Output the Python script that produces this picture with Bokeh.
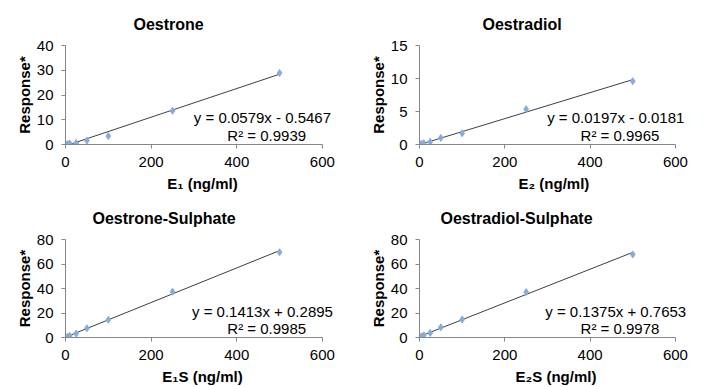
from bokeh.plotting import figure
from bokeh.layouts import column, row
from bokeh.models import Label, Range1d, FixedTicker
from bokeh.embed import file_html
from bokeh.resources import INLINE

# ---- data ----
conc = [1, 5, 10, 25, 50, 100, 250, 500]
oestrone = [0.0, 0.2, 0.4, 0.6, 1.6, 3.4, 13.6, 28.9]
oestradiol = [0.0, 0.1, 0.2, 0.4, 1.0, 1.7, 5.35, 9.6]
oestrone_sulphate = [0.1, 0.6, 1.3, 3.2, 7.5, 14.4, 37.4, 69.6]
oestradiol_sulphate = [0.2, 0.9, 1.8, 3.7, 8.3, 14.7, 37.1, 67.8]
series = [oestrone, oestradiol, oestrone_sulphate, oestradiol_sulphate]

titles = ["Oestrone", "Oestradiol", "Oestrone-Sulphate", "Oestradiol-Sulphate"]
xlabels = ["E\u2081 (ng/ml)", "E\u2082  (ng/ml)", "E\u2081S (ng/ml)", "E\u2082S (ng/ml)"]
ylabel = "Response*"
slopes = [0.0579, 0.0197, 0.1413, 0.1375]
intercepts = [-0.5467, -0.0181, 0.2895, 0.7653]
eq_texts = ["y = 0.0579x - 0.5467", "y = 0.0197x - 0.0181",
            "y = 0.1413x + 0.2895", "y = 0.1375x + 0.7653"]
r2_texts = ["R\u00b2 = 0.9939", "R\u00b2 = 0.9965", "R\u00b2 = 0.9985", "R\u00b2 = 0.9978"]
y_max = [40, 15, 80, 80]
y_ticks = [[0, 10, 20, 30, 40], [0, 5, 10, 15], [0, 20, 40, 60, 80], [0, 20, 40, 60, 80]]
x_max = 600
x_ticks = [0, 200, 400, 600]

FONT = "Liberation Sans"
AXIS_GRAY = "#868686"

# panel geometry: (width, height, left, right, top, bottom, title_offset)
geom = [
    (354, 194, 65, 15, 44, 50, 68),
    (353, 194, 65, 15, 44, 50, 63),
    (354, 193, 65, 15, 44, 49, 27),
    (353, 193, 65, 15, 44, 49, 21),
]
X_VIEW = 640  # visible x extent, axis line stops at x_max


def make_panel(i):
    w, h, bl, br, bt, bb, toff = geom[i]
    p = figure(width=w, height=h, output_backend="svg", toolbar_location=None,
               x_range=Range1d(0, X_VIEW), y_range=Range1d(0, y_max[i]),
               min_border_left=bl, min_border_right=br,
               min_border_top=bt, min_border_bottom=bb)
    p.outline_line_color = None
    p.grid.visible = False
    p.background_fill_color = "white"
    p.border_fill_color = "white"

    p.title.text = titles[i]
    p.title.align = "left"
    p.title.offset = toff
    p.title.text_font = FONT
    p.title.text_font_size = "16px"
    p.title.text_font_style = "bold"
    p.title.text_color = "black"
    p.title.standoff = 26

    for ax in (p.xaxis[0], p.yaxis[0]):
        ax.axis_line_color = AXIS_GRAY
        ax.major_tick_line_color = AXIS_GRAY
        ax.major_tick_out = 4
        ax.major_tick_in = 0
        ax.minor_tick_line_color = None
        ax.major_label_text_font = FONT
        ax.major_label_text_font_size = "15px"
        ax.major_label_text_color = "black"
        ax.axis_label_text_font = FONT
        ax.axis_label_text_font_size = "15px"
        ax.axis_label_text_font_style = "bold"
        ax.axis_label_text_color = "black"
    p.xaxis[0].ticker = FixedTicker(ticks=x_ticks)
    p.xaxis[0].bounds = (0, x_max)
    p.yaxis[0].ticker = FixedTicker(ticks=y_ticks[i])
    p.xaxis[0].axis_label = xlabels[i]
    p.yaxis[0].axis_label = ylabel
    p.xaxis[0].major_label_standoff = 8
    p.yaxis[0].major_label_standoff = 8
    p.xaxis[0].axis_label_standoff = 5
    p.yaxis[0].axis_label_standoff = 1

    # trendline from fitted coefficients over data x-span
    xs = [min(conc), max(conc)]
    ys = [slopes[i] * x + intercepts[i] for x in xs]
    p.line(xs, ys, line_color="#3f3f3f", line_width=1)

    p.scatter(conc, series[i], marker="diamond", size=7,
              fill_color="#86acdc", line_color="#86acdc")

    ym = y_max[i]
    p.add_layout(Label(x=460, y=0.27 * ym, text=eq_texts[i], text_align="center",
                       text_baseline="middle", text_font=FONT, text_font_size="15px",
                       text_color="black"))
    p.add_layout(Label(x=470, y=0.09 * ym, text=r2_texts[i], text_align="center",
                       text_baseline="middle", text_font=FONT, text_font_size="15px",
                       text_color="black"))
    return p


panels = [make_panel(i) for i in range(4)]
layout = column(row(panels[0], panels[1]), row(panels[2], panels[3]))

open("out.html", "w").write(file_html(layout, INLINE))
